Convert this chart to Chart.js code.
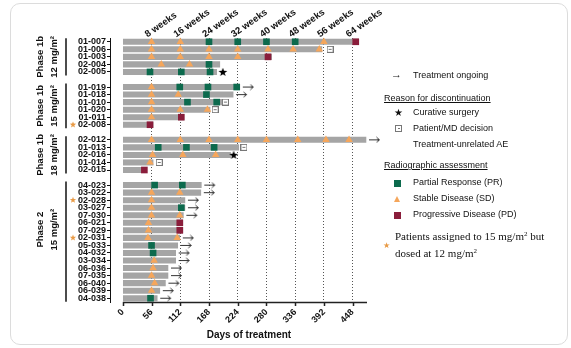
<!DOCTYPE html>
<html>
<head>
<meta charset="utf-8">
<script src="https://cdn.jsdelivr.net/npm/chart.js@4.4.1/dist/chart.umd.min.js"></script>
<style>
  html, body { margin: 0; padding: 0; background: #fff; }
  #wrap { position: relative; width: 571px; height: 348px; overflow: hidden;
          font-family: 'Liberation Sans', Arial, sans-serif; color: #111; }
  #frame { position: absolute; left: 10px; top: 3px; width: 556px; height: 340px;
           border: 1px solid #dcdcdc; border-radius: 10px; }
  canvas { position: absolute; left: 0; top: 0; }
  .lg { position: absolute; font-size: 9px; line-height: 11px; white-space: nowrap; }
  .u { text-decoration: underline; }
  .serif { font-family: 'Liberation Serif', 'Times New Roman', serif; font-size: 11px; line-height: 13px; }
  .serif sup { font-size: 7px; line-height: 0; vertical-align: 4px; }
  .sq { position: absolute; width: 7px; height: 7px; }
  .box { position: absolute; width: 5px; height: 5px; border: 1px solid #777; background: #fff; }
  .box::after { content: ''; position: absolute; left: 1.5px; top: 2px; width: 2px; height: 1px; background: #777; }
  .tri { position: absolute; width: 0; height: 0; border-left: 3.5px solid transparent;
         border-right: 3.5px solid transparent; border-bottom: 6px solid #f5a65b; }
</style>
</head>
<body>
<div id="wrap">
  <div id="frame"></div>
  <canvas id="swim" width="571" height="348"></canvas>

  <div class="lg" style="left:391px;top:69px;font-size:11px;">→</div>
  <div class="lg" style="left:413px;top:70px;">Treatment ongoing</div>
  <div class="lg u" style="left:384px;top:93px;">Reason for discontinuation</div>
  <div class="lg" style="left:394px;top:107px;font-size:10px;">★</div>
  <div class="lg" style="left:413px;top:107px;">Curative surgery</div>
  <div class="box" style="left:395px;top:125px;"></div>
  <div class="lg" style="left:413px;top:123px;">Patient/MD decision</div>
  <div class="lg" style="left:413px;top:139px;">Treatment-unrelated AE</div>
  <div class="lg u" style="left:384px;top:160px;">Radiographic assessment</div>
  <div class="sq" style="left:394px;top:180px;background:#0c6a4d;"></div>
  <div class="lg" style="left:413px;top:177px;">Partial Response (PR)</div>
  <div class="tri" style="left:394px;top:196px;"></div>
  <div class="lg" style="left:413px;top:193px;">Stable Disease (SD)</div>
  <div class="sq" style="left:394px;top:212px;background:#8a1d3b;"></div>
  <div class="lg" style="left:413px;top:209px;">Progressive Disease (PD)</div>
  <div class="lg" style="left:383px;top:240px;color:#e89a45;font-size:8px;">★</div>
  <div class="lg serif" style="left:395px;top:230px;">Patients assigned to 15 mg/m<sup>2</sup> but</div>
  <div class="lg serif" style="left:395px;top:247px;">dosed at 12 mg/m<sup>2</sup></div>
</div>

<script>
/* ── Swimmer plot: days of treatment per patient ── */

const COLORS = {
  bar:  '#a5a5a5',
  pr:   '#0c6a4d',
  sd:   '#f5a65b',
  pd:   '#8a1d3b',
  star: '#e89a45',
  ink:  '#111111',
};

Chart.defaults.font.family = "'Liberation Sans', Arial, sans-serif";
Chart.defaults.color = COLORS.ink;

// ── Data ──
// blank entries are the spacer rows between dose groups
const ROW_IDS = [
  '01-007', '01-006', '01-003', '02-004', '02-005', ' ',
  '01-019', '01-018', '01-010', '01-020', '01-011', '02-008', '  ',
  '02-012', '01-013', '02-016', '01-014', '02-015', '   ',
  '04-023', '03-022', '02-028', '03-027', '07-030', '06-021', '07-029', '02-031',
  '05-033', '04-032', '03-034', '06-036', '07-035', '06-040', '06-039', '04-038',
];
const DAYS_ON_TREATMENT = [
  460, 388, 290, 189, 183, null,
  228, 215, 193, 170, 119, 59, null,
  474, 226, 210, 59, 46, null,
  153, 152, 121, 121, 118, 117, 117, 111,
  107, 103, 103, 88, 88, 83, 72, 67,
];

const TICK_DAYS = [0, 56, 112, 168, 224, 280, 336, 392, 448];
const WEEK_DAYS = [56, 112, 168, 224, 280, 336, 392, 448];
const WEEK_LABELS = ['8 weeks', '16 weeks', '24 weeks', '32 weeks', '40 weeks', '48 weeks', '56 weeks', '64 weeks'];

// radiographic assessments: [patient, day]
const PR = [
  ['01-007', 168], ['01-007', 224], ['01-007', 280], ['01-007', 336],
  ['02-004', 168],
  ['02-005', 53], ['02-005', 114], ['02-005', 170],
  ['01-019', 111], ['01-019', 166], ['01-019', 222],
  ['01-018', 163],
  ['01-010', 126], ['01-010', 183],
  ['01-013', 69], ['01-013', 124], ['01-013', 178],
  ['04-023', 62], ['04-023', 116],
  ['03-027', 114],
  ['05-033', 56], ['04-032', 59], ['04-038', 54],
];
const SD = [
  ['01-007', 56], ['01-007', 112], ['01-007', 392],
  ['01-006', 56], ['01-006', 112], ['01-006', 168], ['01-006', 224], ['01-006', 283], ['01-006', 332], ['01-006', 383],
  ['01-003', 56], ['01-003', 112], ['01-003', 168], ['01-003', 224],
  ['02-004', 75], ['02-004', 130],
  ['01-019', 56],
  ['01-018', 56], ['01-018', 108],
  ['01-010', 56],
  ['01-020', 56], ['01-020', 112], ['01-020', 165],
  ['01-011', 56],
  ['02-012', 56], ['02-012', 112], ['02-012', 168], ['02-012', 224], ['02-012', 280], ['02-012', 341], ['02-012', 396], ['02-012', 441],
  ['02-016', 58], ['02-016', 117], ['02-016', 181],
  ['01-014', 53],
  ['03-022', 56], ['03-022', 111],
  ['02-028', 56], ['03-027', 56],
  ['07-030', 56], ['07-030', 111],
  ['06-021', 50], ['07-029', 50],
  ['02-031', 49], ['02-031', 106],
  ['03-034', 61], ['06-036', 59], ['07-035', 56], ['06-040', 62], ['06-039', 56],
];
const PD = [
  ['01-007', 454], ['01-003', 283], ['01-011', 114], ['02-008', 53],
  ['02-015', 42], ['06-021', 111], ['07-029', 111],
];

// reasons for discontinuation
const SURGERY = [['02-005', 195], ['02-016', 216]];
const DECISION = [['01-006', 404], ['01-010', 200], ['01-020', 180], ['01-013', 236], ['01-014', 71]];
const ONGOING = [
  '01-019', '01-018', '02-012',
  '04-023', '03-022', '02-028', '03-027', '07-030', '02-031',
  '05-033', '04-032', '03-034', '06-036', '07-035', '06-040', '06-039', '04-038',
];
const DOSED_AT_12 = ['02-008', '02-028', '02-031'];

const GROUP_PHASE = ['Phase 1b', 'Phase 1b', 'Phase 1b', 'Phase 2'];
const GROUP_DOSE  = ['12 mg/m²', '15 mg/m²', '18 mg/m²', '15 mg/m²'];
const GROUP_FIRST = ['01-007', '01-019', '02-012', '04-023'];
const GROUP_LAST  = ['02-005', '02-008', '02-015', '04-038'];

// ── Icons used as point styles ──
function makeIcon(w, h, draw) {
  const c = document.createElement('canvas');
  c.width = w; c.height = h;
  draw(c.getContext('2d'));
  return c;
}

function starPath(ctx, cx, cy, outer, inner) {
  ctx.beginPath();
  for (let i = 0; i < 10; i++) {
    const r = i % 2 ? inner : outer;
    const a = -Math.PI / 2 + i * Math.PI / 5;
    ctx.lineTo(cx + r * Math.cos(a), cy + r * Math.sin(a));
  }
  ctx.closePath();
}

const starIcon = makeIcon(10, 10, c => {
  c.fillStyle = '#000';
  starPath(c, 5, 5.3, 4.6, 1.9);
  c.fill();
});
const boxIcon = makeIcon(7, 7, c => {
  c.fillStyle = '#fff';
  c.fillRect(0, 0, 7, 7);
  c.strokeStyle = '#777';
  c.strokeRect(0.5, 0.5, 6, 6);
  c.fillStyle = '#777';
  c.fillRect(2, 3, 3, 1);
});
const arrowIcon = makeIcon(30, 7, c => {
  c.strokeStyle = '#333';
  c.lineWidth = 1;
  c.beginPath();
  c.moveTo(18, 3.5); c.lineTo(28.5, 3.5);
  c.moveTo(25.5, 1); c.lineTo(28.5, 3.5); c.lineTo(25.5, 6);
  c.stroke();
});

const toPoints = list => list.map(([id, day]) => ({ x: day, y: id }));
const endOf = id => DAYS_ON_TREATMENT[ROW_IDS.indexOf(id)];

// ── Decorations: x axis line, group brackets, group labels ──
const decor = {
  id: 'decor',
  afterDraw(chart) {
    const { ctx, chartArea, scales: { x, y } } = chart;
    ctx.save();

    // x axis line + tick marks
    const x0 = x.getPixelForValue(0);
    ctx.strokeStyle = '#222';
    ctx.lineWidth = 1.5;
    ctx.beginPath();
    ctx.moveTo(x0, chartArea.bottom + 0.5);
    ctx.lineTo(chartArea.right, chartArea.bottom + 0.5);
    TICK_DAYS.forEach(d => {
      const px = Math.round(x.getPixelForValue(d)) + 0.5;
      ctx.moveTo(px, chartArea.bottom);
      ctx.lineTo(px, chartArea.bottom + 4);
    });
    ctx.stroke();

    // axis title
    ctx.fillStyle = COLORS.ink;
    ctx.font = "bold 10px 'Liberation Sans', Arial, sans-serif";
    ctx.textAlign = 'center';
    ctx.textBaseline = 'middle';
    ctx.fillText('Days of treatment', (x0 + chartArea.right) / 2 + 4, 335);

    // group brackets and rotated labels
    GROUP_PHASE.forEach((phase, i) => {
      const y1 = y.getPixelForValue(ROW_IDS.indexOf(GROUP_FIRST[i])) - 3.5;
      const y2 = y.getPixelForValue(ROW_IDS.indexOf(GROUP_LAST[i])) + 3.5;
      ctx.strokeStyle = '#111';
      ctx.lineWidth = 1.5;
      ctx.beginPath();
      ctx.moveTo(66, y1);
      ctx.lineTo(66, y2);
      ctx.stroke();

      const cy = (y1 + y2) / 2 + (i === 3 ? -12 : 0);
      ctx.font = "bold 9.5px 'Liberation Sans', Arial, sans-serif";
      [[40, phase], [54, GROUP_DOSE[i]]].forEach(([cx, txt]) => {
        ctx.save();
        ctx.translate(cx, cy);
        ctx.rotate(-Math.PI / 2);
        ctx.fillText(txt, 0, 0);
        ctx.restore();
      });
    });

    // orange stars: assigned 15 mg/m² but dosed at 12 mg/m²
    ctx.fillStyle = COLORS.star;
    DOSED_AT_12.forEach(id => {
      starPath(ctx, 73, y.getPixelForValue(ROW_IDS.indexOf(id)), 3.3, 1.4);
      ctx.fill();
    });

    ctx.restore();
  }
};

// ── Chart ──
new Chart(document.getElementById('swim'), {
  type: 'bar',
  data: {
    labels: ROW_IDS,
    datasets: [
      { type: 'scatter', label: 'Treatment ongoing', data: ONGOING.map(id => ({ x: endOf(id), y: id })),
        pointStyle: arrowIcon, pointRadius: 5, xAxisID: 'x', yAxisID: 'y', clip: false, order: 0 },
      { type: 'scatter', label: 'Curative surgery', data: toPoints(SURGERY),
        pointStyle: starIcon, pointRadius: 5, xAxisID: 'x', yAxisID: 'y', clip: false, order: 0 },
      { type: 'scatter', label: 'Patient/MD decision', data: toPoints(DECISION),
        pointStyle: boxIcon, pointRadius: 5, xAxisID: 'x', yAxisID: 'y', clip: false, order: 0 },
      { type: 'scatter', label: 'Partial Response (PR)', data: toPoints(PR),
        pointStyle: 'rect', pointRadius: 4.7, backgroundColor: COLORS.pr, borderWidth: 0,
        xAxisID: 'x', yAxisID: 'y', clip: false, order: 1 },
      { type: 'scatter', label: 'Progressive Disease (PD)', data: toPoints(PD),
        pointStyle: 'rect', pointRadius: 4.7, backgroundColor: COLORS.pd, borderWidth: 0,
        xAxisID: 'x', yAxisID: 'y', clip: false, order: 1 },
      { type: 'scatter', label: 'Stable Disease (SD)', data: toPoints(SD),
        pointStyle: 'triangle', pointRadius: 4.3, backgroundColor: COLORS.sd, borderWidth: 0,
        xAxisID: 'x', yAxisID: 'y', clip: false, order: 2 },
      { type: 'bar', label: 'Days of treatment', data: DAYS_ON_TREATMENT,
        backgroundColor: COLORS.bar, barThickness: 5.4, xAxisID: 'x', yAxisID: 'y', order: 10 },
    ]
  },
  options: {
    indexAxis: 'y',
    responsive: false,
    animation: false,
    layout: { padding: { left: 0, right: 204, top: 0, bottom: 0 } },
    plugins: {
      legend: { display: false },
      tooltip: { enabled: false },
    },
    scales: {
      x: {
        type: 'linear',
        position: 'bottom',
        min: -25, max: 476,
        afterBuildTicks: s => { s.ticks = TICK_DAYS.map(v => ({ value: v })); },
        afterFit: s => { s.height = 46; },
        ticks: {
          autoSkip: false,
          minRotation: 45, maxRotation: 45,
          padding: 5,
          color: COLORS.ink,
          font: { size: 9, weight: 'bold' },
          callback: v => String(v),
        },
        grid: {
          drawTicks: false,
          lineWidth: 1,
          color: c => (c.tick && c.tick.value > 0 ? '#555' : 'rgba(0,0,0,0)'),
        },
        border: { display: false, dash: [1, 2] },
      },
      xTop: {
        type: 'linear',
        position: 'top',
        min: -25, max: 476,
        afterBuildTicks: s => { s.ticks = WEEK_DAYS.map(v => ({ value: v })); },
        afterFit: s => { s.height = 38; },
        ticks: {
          autoSkip: false,
          minRotation: 35, maxRotation: 35,
          padding: -10,
          labelOffset: 1,
          color: COLORS.ink,
          font: { size: 9.5, weight: 'bold' },
          callback: (v, i) => WEEK_LABELS[i],
        },
        grid: { display: false },
        border: { display: false },
      },
      y: {
        type: 'category',
        offset: true,
        afterFit: s => { s.width = 110; },
        ticks: {
          autoSkip: false,
          padding: 1,
          color: COLORS.ink,
          font: { size: 9, weight: 'bold' },
        },
        grid: {
          offset: false,
          drawOnChartArea: false,
          tickLength: 3,
          color: c => (ROW_IDS[c.index] && ROW_IDS[c.index].trim() ? '#111' : 'rgba(0,0,0,0)'),
        },
        border: { display: true, color: '#111', width: 1 },
      },
    }
  },
  plugins: [decor]
});
</script>
</body>
</html>
